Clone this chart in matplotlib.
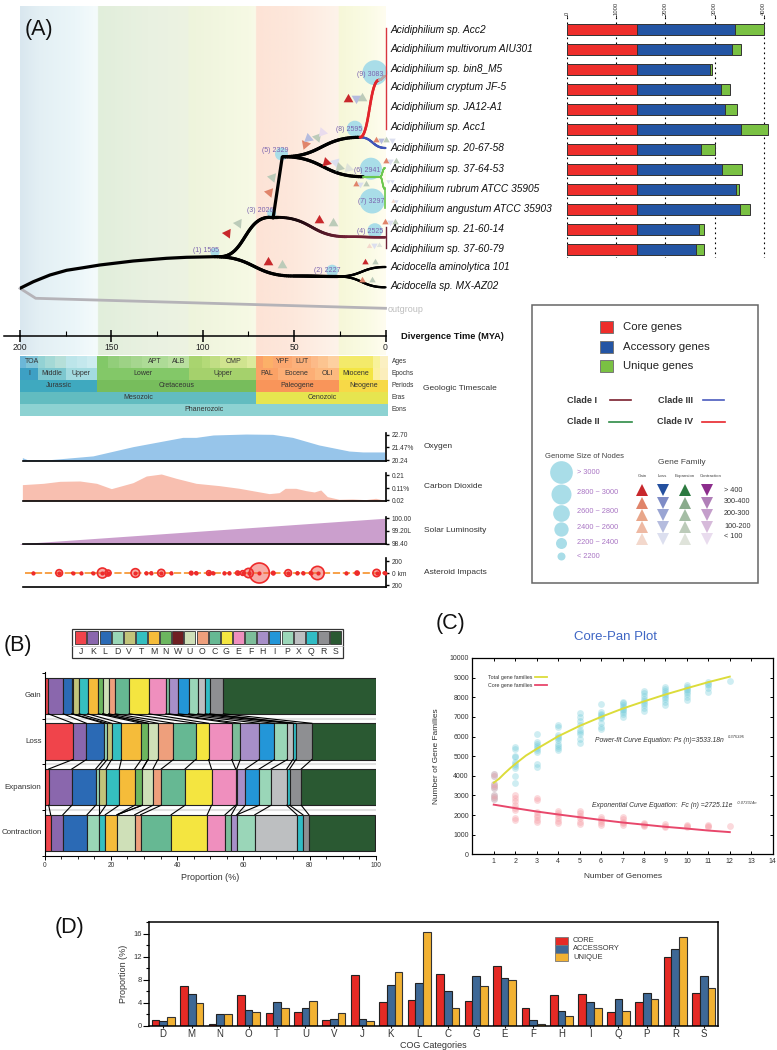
import numpy as np
import matplotlib
matplotlib.use("Agg")
import matplotlib.pyplot as plt
from matplotlib.collections import LineCollection
from matplotlib.colors import to_rgb
from matplotlib.patches import Rectangle
from matplotlib.ticker import MultipleLocator

plt.rcParams['font.family'] = ['Liberation Sans', 'DejaVu Sans']

W, H = 777, 1050
fig = plt.figure(figsize=(W / 100, H / 100), dpi=100, facecolor='white')


def axpx(x0, y0, x1, y1, **kw):
    return fig.add_axes([x0 / W, 1 - y1 / H, (x1 - x0) / W, (y1 - y0) / H], **kw)


# ---------------- DATA ----------------
species = ['Acidiphilium sp. Acc2', 'Acidiphilium multivorum AIU301', 'Acidiphilium sp. bin8_M5',
           'Acidiphilium cryptum JF-5', 'Acidiphilium sp. JA12-A1', 'Acidiphilium sp. Acc1',
           'Acidiphilium sp. 20-67-58', 'Acidiphilium sp. 37-64-53', 'Acidiphilium rubrum ATCC 35905',
           'Acidiphilium angustum ATCC 35903', 'Acidiphilium sp. 21-60-14', 'Acidiphilium sp. 37-60-79',
           'Acidocella aminolytica 101', 'Acidocella sp. MX-AZ02']
species_y = [30, 49.5, 69, 87, 107, 127, 148, 169, 189, 209, 229, 249, 267, 286]

core_genes = [1419] * 12
accessory_genes = [1990, 1929, 1494, 1711, 1786, 2112, 1297, 1738, 2010, 2091, 1270, 1209]
unique_genes = [604, 186, 27, 190, 244, 550, 299, 408, 75, 218, 95, 163]

root_t = [200, 192.7, 183.6, 174.5, 165.4, 156.3, 138, 119.8, 108.9, 93.3]
root_y = [288.3, 281.7, 275, 270.3, 267.7, 265, 261, 258.3, 257.3, 256.7]
# t0, y0, t1, y1, colour start, colour end, width
branches = [
    (93.3, 256.7, 50.5, 276, '#000000', '#000000', 2.3),
    (50.5, 276, 26, 276.5, '#000000', '#000000', 2.3),
    (26, 276.5, 0, 267, '#000000', '#000000', 1.7),
    (26, 276.5, 0, 287.3, '#000000', '#000000', 1.7),
    (90.6, 256.7, 63.3, 217.3, '#000000', '#000000', 2.3),
    (63.3, 217.3, 59.6, 217.3, '#000000', '#000000', 2.3),
    (59.6, 217.3, 21.3, 236.7, '#000000', '#702035', 2.1),
    (21.3, 236.7, 0, 237.3, '#702035', '#702035', 1.8),
    (56, 156.7, 14, 137.3, '#000000', '#000000', 2.3),
    (56, 156.7, 12.2, 176.7, '#000000', '#000000', 2.3),
    (12.2, 176.7, 3, 176.7, '#6cc84f', '#6cc84f', 1.5),
    (3, 176.7, 0.3, 168, '#6cc84f', '#6cc84f', 1.2),
    (3, 176.7, 0.3, 189, '#6cc84f', '#6cc84f', 1.2),
    (14, 137.3, 0, 148, '#3f55b8', '#3f55b8', 1.6),
    (14, 137.3, 3.5, 80, '#e2252b', '#e2252b', 1.9),
    (3.5, 80, 0, 76, '#b5a9a9', '#b5a9a9', 1.5),
]
stem_t = [61.5, 56.5]
stem_y = [218, 157]
clade4_y = [28, 129]
clade2_y = [188, 208]
clade1_y = [227, 248]
outgroup_t = [200, 191.4, 0]
outgroup_y = [288.3, 298.3, 308.3]

node_names = ['(1) 1505', '(2) 2227', '(3) 2026', '(4) 2525', '(5) 2329', '(6) 2941', '(7) 3297', '(8) 2595', '(9) 3083']
node_t = [93.3, 29.2, 62.3, 5.8, 56.9, 8, 7.3, 16.8, 5.8]
node_y = [252.3, 270.7, 213.3, 230.7, 154, 168.7, 201, 128.7, 72.7]
node_d = [9, 12, 9, 15, 13, 22, 25, 16, 25]
node_lab_t = [98.3, 32.1, 68.5, 8.6, 60.3, 9.8, 7.8, 20, 8.4]
node_lab_y = [250, 270.7, 210.7, 231.7, 150.7, 170, 201.3, 129.3, 74]

tri_t = [86.6, 80.6, 64.5, 56.9, 63.6, 62.3, 36.3, 28.6, 44.1, 42.3, 37.4, 35, 32.6, 27.7, 25.3, 20.4, 20.4, 16.4, 12.6,
         5.3, 2.2, -.5, -3.3, 11.1, 5.8, 12.6, 7.3, -.2, -2.7, -5.5, 16.2, 13.7, 10.9, -1.5, -3.3, -4.2, -6, .4, -2.4, -5.1,
         8.9, 6.4, 3.6]
tri_y = [232.7, 223.3, 261.7, 265, 191.7, 176.7, 220, 223.3, 144, 138.3, 136.7, 131.7, 161.7, 162.3, 166.7, 168.3, 99, 98.3,
         98.3, 140, 140, 140, 140, 261.7, 261.7, 280, 280, 161, 161, 161, 184.3, 184.3, 184.3, 181, 181, 201, 201, 222.3,
         222.3, 222.3, 245.7, 245, 245]
tri_kind = list('GEGEGEGEGLECGLEEGLEGLELGEGEGLEGLELLGLGLEGLE')
tri_level = [0, 3, 0, 3, 1, 3, 0, 3, 1, 3, 3, 4, 0, 4, 3, 4, 0, 3, 3, 1, 3, 3, 4, 0, 3, 1, 3, 1, 4, 3, 1, 4, 3, 4, 4, 4, 4, 1, 4, 3,
             4, 4, 4]
tri_px = [9] * 19 + [6] * 14 + [4] * 4 + [6] * 3 + [5, 6, 5]
tri_rot = [-35, -35, 0, 0, 80, 80, 0, 0, -80, -50, -40, -40, 15, 15, 15, 15] + [0] * 27

band_t = [200, 190, 170, 157.5, 157.4, 130, 108, 107.9, 75, 71, 70.9, 50, 26, 25.5, 10, 0]
band_c = ['#d9e7ef', '#e3eff4', '#ebf6f9', '#f5fbfc', '#e1eedb', '#e9f1e1', '#edf3e2', '#eef4dc', '#f6f9e4', '#f9fae8',
          '#fde3d6', '#fde8dc', '#fef3ea', '#f6f7d8', '#fafbe4', '#fffdf0']

time_major = [200, 150, 100, 50, 0]
time_minor = [175, 125, 75, 25]

ages = [(200, 196.7, '', '#6cb7d8'), (196.7, 190, 'TOA', '#7fc4d8'), (190, 186.3, '', '#93d2d4'), (186.3, 180.8, '', '#a4d9d6'),
        (180.8, 174.8, '', '#b5dfd9'), (174.8, 169, '', '#bce5ea'), (169, 163.5, '', '#c4e8ed'), (163.5, 157.9, '', '#cdecf0'),
        (157.9, 151.7, '', '#82c868'), (151.7, 145.7, '', '#92ce7a'), (145.7, 139.5, '', '#9dd285'), (139.5, 133.4, '', '#a6d68f'),
        (133.4, 119.2, 'APT', '#addb96'), (119.2, 107.4, 'ALB', '#b9df9f'), (107.4, 100.6, '', '#a9d46f'), (100.6, 96, '', '#b4da78'),
        (96, 90.6, '', '#c1de84'), (90.6, 76, 'CMP', '#d0e48f'), (76, 70.9, '', '#dcea9c'), (70.9, 66.9, '', '#fba067'),
        (66.9, 61.4, '', '#fcb068'), (61.4, 51.4, 'YPF', '#fba870'), (51.4, 40.5, 'LUT', '#fbb07a'), (40.5, 36.8, '', '#fcba88'),
        (36.8, 31.4, '', '#fcc490'), (31.4, 25.5, '', '#fdd0a0'), (25.5, 6.7, '', '#f3ea6a'), (6.7, 3.1, '', '#f8f29a'),
        (3.1, -1.5, '', '#fbf0c2')]
epochs = [(200, 190, 'I', '#3da0c4'), (190, 174.8, 'Middle', '#7dc7cf'), (174.8, 157.9, 'Upper', '#a3dbe0'),
          (157.9, 107.4, 'Lower', '#83c868'), (107.4, 70.9, 'Upper', '#a5d16c'), (70.9, 59, 'PAL', '#fba266'),
          (59, 38.6, 'Eocene', '#fcae75'), (38.6, 25.5, 'OLI', '#fcb97f'), (25.5, 6.7, 'Miocene', '#f3e544'),
          (6.7, 3.1, '', '#fcf0a0'), (3.1, -1.5, '', '#fbeebc')]
periods = [(200, 157.9, 'Jurassic', '#3fa9bf'), (157.9, 70.9, 'Cretaceous', '#77bd5c'), (70.9, 25.5, 'Paleogene', '#f9955a'),
           (25.5, -1.5, 'Neogene', '#f7d947')]
eras = [(200, 70.9, 'Mesozoic', '#62bcc0'), (70.9, -1.5, 'Cenozoic', '#e6e54f')]
eons = [(200, -1.5, 'Phanerozoic', '#8dd2d2')]
row_names = ['Ages', 'Epochs', 'Periods', 'Eras', 'Eons']

oxygen_t = [198.7, 196, 183.6, 160, 138, 110.7, 103.4, 94, 76, 61.4, 50.5, 36, 19.5, 12, 0]
oxygen_v = [20.50, 20.30, 20.30, 20.66, 21.55, 22.44, 22.44, 22.67, 22.76, 22.73, 22.44, 21.71, 21.13, 21.04, 21.04]
co2_t = [198.7, 187.2, 178.1, 167.2, 158, 149.9, 138, 130.7, 122.5, 114.3, 103.4, 90.6, 79.7, 63.3, 57.8, 54.5, 48.7, 43.2,
         38.6, 35, 31.4, 25, 17.7, 10.4, 4.9, 0]
co2_v = [.1375, .1475, .1625, .165, .1475, .1075, .1525, .2025, .2175, .185, .1475, .13, .11, .07, .0775, .11, .11, .0925,
         .0825, .0975, .0475, .0275, .03, .025, .035, .02]
solar_t = [200, 0]
solar_v = [98.4, 100.0]
ast_t = [192.7, 178.5, 171.2, 166.3, 160.2, 154.8, 151.7, 136.7, 130.7, 128, 122.5, 117, 106.1, 103.4, 96.4, 94.2, 87.9, 85.1,
         80.6, 77.8, 74.6, 68.7, 61.1, 52.9, 47.8, 44.7, 40.5, 36.8, 21, 15.1, 4.4, 0]
ast_km = [14, 67, 14, 14, 14, 100, 60, 87, 18, 22, 73, 18, 33, 24, 47, 20, 18, 20, 40, 47, 93, 200, 33, 67, 22, 22, 28, 133, 14,
          40, 73, 24]

cog_letters = ['J', 'K', 'L', 'D', 'V', 'T', 'M', 'N', 'W', 'U', 'O', 'C', 'G', 'E', 'F', 'H', 'I', 'P', 'X', 'Q', 'R', 'S']
cog_colors = ['#f0444b', '#8a67ad', '#2b6ab5', '#99d6b6', '#c2c47a', '#35bfc0', '#f5bc3a', '#6cb65f', '#6f1f22', '#cfe0b8',
              '#ee9f7c', '#66b893', '#f4e540', '#ef8fbe', '#7dbd9a', '#a78fc8', '#2396d8', '#9ad6b8', '#bdbfc1', '#31bcc4',
              '#8e8f92', '#2a5932']
b_rows = ['Gain', 'Loss', 'Expansion', 'Contraction']
gain_pct = [1.1, 4.5, 2.5, 0.3, 2.0, 2.6, 3.2, 1.3, 0, 1.8, 2.0, 4.2, 6.0, 5.1, 0.9, 2.9, 3.1, 2.7, 2.3, 1.3, 4.2, 46.0]
loss_pct = [8.5, 4.1, 5.2, 1.1, 1.3, 3.0, 6.0, 2.0, 0, 3.0, 4.7, 6.7, 3.9, 7.0, 2.6, 5.7, 4.6, 3.9, 1.7, 0.9, 4.8, 19.3]
expansion_pct = [1.2, 7.0, 7.2, 1.1, 2.0, 4.0, 4.7, 2.3, 0, 3.2, 2.5, 7.2, 8.0, 7.3, 0.3, 2.6, 4.2, 3.6, 4.7, 0.9, 3.5, 22.5]
contraction_pct = [1.8, 3.7, 7.3, 3.7, 0, 1.8, 3.6, 0, 0, 5.3, 1.8, 9.2, 10.9, 5.4, 1.9, 1.7, 0, 5.4, 12.7, 1.8, 1.8, 19.9]

pan_n = list(range(1, 13))
pan_pts = [[2800, 2900, 3000, 3400, 3500, 3600, 4000, 4100],
           [3650, 4000, 4400, 4500, 4600, 4700, 4950, 5000, 5350, 5450],
           [4450, 4600, 5200, 5300, 5400, 5500, 5600, 5700, 6150],
           [5300, 5400, 5500, 5600, 5800, 5900, 6000, 6100, 6500, 6600],
           [5650, 5850, 6150, 6250, 6350, 6600, 6800, 7000, 7200],
           [6400, 6500, 6700, 6950, 7000, 7100, 7150, 7250, 7650],
           [7000, 7150, 7250, 7350, 7400, 7500, 7600, 7700, 7750],
           [7300, 7450, 7600, 7700, 7800, 7900, 8050, 8200, 8300],
           [7600, 7750, 7900, 8000, 8100, 8200, 8300, 8400, 8500],
           [7850, 8000, 8150, 8250, 8350, 8400, 8500, 8600],
           [8250, 8450, 8600, 8700, 8800],
           [8850]]
core_pts = [[2800, 2900, 3000, 3400, 3500, 3600, 4000, 4100],
            [1750, 1850, 2250, 2350, 2500, 2700, 2850, 3000],
            [1650, 1750, 1900, 2000, 2150, 2750, 2850],
            [1600, 1700, 1850, 2000, 2100, 2200],
            [1550, 1650, 1850, 1950, 2100, 2200],
            [1500, 1600, 1700, 1800, 1900],
            [1500, 1600, 1650, 1800, 1900],
            [1450, 1500, 1550, 1600],
            [1400, 1450, 1550],
            [1400, 1450, 1500],
            [1400, 1450, 1500],
            [1420]]
pan_curve_n = [1, 1.25, 1.5, 1.75, 2, 2.5, 3, 4, 5, 6, 7, 8, 9, 10, 11, 12]
pan_curve = [3650, 3850, 4120, 4370, 4600, 5030, 5370, 6010, 6540, 7000, 7420, 7790, 8140, 8460, 8770, 9050]
core_curve_n = [1, 2, 3, 4, 5, 6, 7, 8, 9, 10, 11, 12]
core_curve = [2530, 2350, 2180, 2030, 1890, 1750, 1620, 1510, 1400, 1310, 1210, 1130]

d_cats = ['D', 'M', 'N', 'O', 'T', 'U', 'V', 'J', 'K', 'L', 'C', 'G', 'E', 'F', 'H', 'I', 'Q', 'P', 'R', 'S']
d_core = [1.1, 6.9, .4, 5.3, 2.2, 2.4, 1.0, 8.8, 4.2, 4.5, 9.1, 4.4, 10.5, 3.2, 5.3, 5.6, 2.5, 4.2, 11.9, 5.8]
d_accessory = [.9, 5.5, 2.1, 2.7, 4.2, 3.1, 1.2, 1.3, 7.2, 7.5, 6.0, 8.6, 8.4, 1.1, 2.6, 4.1, 4.6, 5.7, 13.4, 8.6]
d_unique = [1.5, 4.0, 2.1, 2.5, 3.2, 4.3, 2.3, .8, 9.4, 16.4, 3.2, 6.9, 8.0, .3, 1.8, 3.1, 2.6, 4.7, 15.4, 6.6]

tri_colors = {
    'G': ['#c8282c', '#e0846a', '#e8a68a', '#eeb9a3', '#f3d8cc'],
    'L': ['#24509f', '#7f8cc6', '#9aa5d3', '#b5bcde', '#dcdfef'],
    'E': ['#2c7a40', '#8aab8c', '#a5bda5', '#bccbb9', '#dfe3da'],
    'C': ['#8c2d8c', '#b07fb8', '#c49ecb', '#d6bada', '#e9dcee'],
}
RED, BLUE, GREEN = '#ee2e2b', '#2455a4', '#7ac143'
NODE = '#a9dde8'
PURPLE = '#7a63ae'
LIGHTPURPLE = '#a975c4'

# ---------------- TREE ----------------
tree = axpx(20, 0, 385.5, 355)
tree.set_xlim(200, 0)
tree.set_ylim(355, 0)
tree.axis('off')
grid_t = np.linspace(200, 0, 800)
band_rgb = np.array([to_rgb(c) for c in band_c])
img = np.stack([np.interp(grid_t, band_t[::-1], band_rgb[::-1, i]) for i in range(3)], axis=1)[None, :, :]
tree.imshow(img, extent=(200, 0, 355, 6), aspect='auto', zorder=0, interpolation='bilinear')
tree.set_xlim(200, 0)
tree.set_ylim(355, 0)


def branch(t0, y0, t1, y1, c0, c1, lw):
    s = np.linspace(0, 1, 50)
    tm = (t0 + t1) / 2
    t = (1 - s) ** 3 * t0 + 3 * (1 - s) ** 2 * s * tm + 3 * (1 - s) * s ** 2 * tm + s ** 3 * t1
    y = (1 - s) ** 3 * y0 + 3 * (1 - s) ** 2 * s * y0 + 3 * (1 - s) * s ** 2 * y1 + s ** 3 * y1
    pts = np.column_stack([t, y])
    segs = np.stack([pts[:-1], pts[1:]], axis=1)
    a, b = np.array(to_rgb(c0)), np.array(to_rgb(c1))
    cols = [a + (b - a) * v for v in s[:-1]]
    lc = LineCollection(segs, colors=cols, linewidths=lw, capstyle='round', zorder=4, clip_on=False)
    tree.add_collection(lc)


tree.plot(outgroup_t, outgroup_y, color='#b5b3b8', lw=2, zorder=3, clip_on=False)
tree.plot(root_t, root_y, color='black', lw=2.3, zorder=4, solid_capstyle='round')
for b in branches:
    branch(*b)
tree.plot(stem_t, stem_y, color='black', lw=2.3, zorder=4, solid_capstyle='round')
tree.plot([0, 0], clade4_y, color='#d9363e', lw=1.0, zorder=4, clip_on=False)
tree.plot([0.3, 0.3], clade2_y, color='#6cc84f', lw=1.2, zorder=4, clip_on=False)
tree.plot([0, 0], clade1_y, color='#702035', lw=1.0, zorder=4, clip_on=False)

tree.scatter(node_t, node_y, s=[(d * .72) ** 2 for d in node_d], color=NODE, linewidths=0, zorder=3, clip_on=False)
for s, t, y in zip(node_names, node_lab_t, node_lab_y):
    tree.text(t, y, s, ha='center', va='center', fontsize=5, color=PURPLE, zorder=6, clip_on=False)

for t, y, k, lv, px, rot in zip(tri_t, tri_y, tri_kind, tri_level, tri_px, tri_rot):
    base = 180 if k in 'LC' else 0
    tree.plot([t], [y], marker=(3, 0, base + rot), ms=px * .72 * 1.25, color=tri_colors[k][lv], mew=0, zorder=5,
              clip_on=False, ls='none')

# time axis
tax = axpx(20, 330, 385.5, 335.7)
tax.patch.set_alpha(0)
tax.set_xlim(200, 0)
tax.set_yticks([])
for s in ['top', 'left', 'right']:
    tax.spines[s].set_visible(False)
tax.spines['bottom'].set_linewidth(1.1)
tax.set_xticks(time_major)
tax.set_xticks(time_minor, minor=True)
tax.tick_params(axis='x', which='major', direction='inout', length=8, width=1.1, labelsize=6.2, pad=1, labelcolor='#222')
tax.tick_params(axis='x', which='minor', direction='in', length=3.5, width=.8)
tax.plot([209, 200], [0, 0], color='black', lw=1.1, clip_on=False, transform=tax.get_xaxis_transform())

# timescale table
tab = axpx(20, 355.7, 385.5, 415.7)
tab.set_xlim(200, 0)
tab.set_ylim(5, 0)
tab.axis('off')
for r, row in enumerate([ages, epochs, periods, eras, eons]):
    for t0, t1, lab, col in row:
        tab.add_patch(Rectangle((t0, r), t1 - t0, 1, fc=col, ec='none', clip_on=False))
        if lab:
            tab.text((t0 + t1) / 2, r + .52, lab, ha='center', va='center', fontsize=5, color='#333', clip_on=False)


def env_axes(y0, y1, ylim, ticks, labels):
    a = axpx(20, y0, 385.5, y1)
    a.patch.set_alpha(0)
    a.set_xlim(200, -0.5)
    a.set_ylim(*ylim)
    a.set_xticks([])
    a.yaxis.tick_right()
    a.set_yticks(ticks)
    a.set_yticklabels(labels)
    a.tick_params(axis='y', length=2.5, width=1, labelsize=4.8, pad=2, labelcolor='#333')
    for s in ['top', 'left']:
        a.spines[s].set_visible(False)
    a.spines['bottom'].set_linewidth(1.2)
    a.spines['right'].set_linewidth(1.2)
    a.spines['bottom'].set_bounds(198.5, -0.5)
    return a


ox = env_axes(433, 461, (20.17, 22.86), [20.24, 21.47, 22.70], ['20.24', '21.47%', '22.70'])
ox.fill_between(oxygen_t, oxygen_v, 20.17, color='#97c5ea', lw=0)
cd = env_axes(473.3, 501, (.0147, .2228), [.02, .11, .21], ['0.02', '0.11%', '0.21'])
cd.fill_between(co2_t, co2_v, .0147, color='#f8bfb0', lw=0)
sl = env_axes(516.7, 544.3, (98.36, 100.1), [98.4, 99.2, 100.0], ['98.40', '99.20L', '100.00'])
sl.fill_between(solar_t, solar_v, 98.36, color='#cb9fcd', lw=0)
ai = env_axes(558, 587, (-233, 250), [-200, 0, 200], ['200', '0 km', '200'])
ai.plot([197, 0], [0, 0], color='#f79a3a', lw=1.3, ls=(0, (4, 1.5)), zorder=1)
ai.scatter(ast_t, [0] * len(ast_t), s=[(.072 * k) ** 2 for k in ast_km], facecolor='#f05a50', alpha=.5, linewidths=0, zorder=2,
           clip_on=False)
ai.scatter(ast_t, [0] * len(ast_t), s=[(.072 * k) ** 2 for k in ast_km], facecolor='none', edgecolor='#ee2b2b', linewidths=1.2,
           zorder=3, clip_on=False)
ai.scatter(ast_t, [0] * len(ast_t), s=9, color='#ee2b2b', linewidths=0, zorder=4, clip_on=False)

# ---------------- GENOME BARS ----------------
bar = axpx(567.3, 17, 773.5, 258)
bar.set_xlim(0, 4200)
bar.set_ylim(11.4, -0.61)
bar.patch.set_alpha(0)
ypos = np.arange(12)
bar.xaxis.tick_top()
bar.set_xticks([0, 1000, 2000, 3000, 4000])
bar.set_xticklabels(['0', '1000', '2000', '3000', '4000'], rotation=90)
bar.tick_params(axis='x', length=1.5, width=.6, labelsize=4.2, pad=.3, labelcolor='#333')
bar.set_yticks([])
for s in bar.spines.values():
    s.set_visible(False)
for v in [0, 1000, 2000, 3000, 4000]:
    bar.plot([v, v], [-.61, 11.4], color='black', lw=.8, ls=(0, (1.5, 3)), zorder=1)
bar.barh(ypos, core_genes, height=.55, color=RED, edgecolor='#333', lw=.7, zorder=2)
bar.barh(ypos, accessory_genes, left=core_genes, height=.55, color=BLUE, edgecolor='#333', lw=.7, zorder=2)
bar.barh(ypos, unique_genes, left=np.add(core_genes, accessory_genes), height=.55, color=GREEN, edgecolor='#333', lw=.7, zorder=2)

# ---------------- PANEL B ----------------
pb = axpx(44.7, 672, 375.7, 855.7)
pb.set_xlim(0, 100)
pb.set_ylim(3.484, -.5185)
rows_b = [gain_pct, loss_pct, expansion_pct, contraction_pct]
cum = [np.cumsum(r) for r in rows_b]
hb = .793
for i, r in enumerate(rows_b):
    left = 0
    for v, c in zip(r, cog_colors):
        if v > 0:
            pb.barh(i, v, left=left, height=hb, color=c, edgecolor='#222', lw=.8)
        left += v
for i in range(3):
    pb.plot([0, 100], [i + .5, i + .5], color='#e2e2e2', lw=1.5, zorder=1)
    for a, b in zip(cum[i][:-1], cum[i + 1][:-1]):
        pb.plot([a, b], [i + hb / 2, i + 1 - hb / 2], color='black', lw=.8, zorder=2)
pb.set_yticks([-.5, .5, 1.5, 2.5, 3.5])
pb.set_yticklabels([])
pb.set_xticks([0, 20, 40, 60, 80, 100])
pb.xaxis.set_minor_locator(MultipleLocator(5))
pb.tick_params(axis='x', which='major', length=3, width=.7, labelsize=4.8, pad=1.5, labelcolor='#333')
pb.tick_params(axis='x', which='minor', length=1.8, width=.6)
pb.tick_params(axis='y', length=2, width=.7)
for s in ['top', 'right']:
    pb.spines[s].set_visible(False)
pb.spines['left'].set_linewidth(.8)
pb.spines['bottom'].set_linewidth(.8)
pb.set_xlabel('Proportion (%)', fontsize=6.5, labelpad=3, color='#333')

# ---------------- PANEL C ----------------
pc = axpx(472.3, 658, 772.7, 854.3)
pc.set_xlim(0, 14)
pc.set_ylim(0, 10000)
for n, vals in zip(pan_n, pan_pts):
    pc.scatter([n] * len(vals), vals, s=24, color='#6cc9d8', alpha=.33, linewidths=0, zorder=2)
for n, vals in zip(pan_n, core_pts):
    pc.scatter([n] * len(vals), vals, s=24, color='#f7a0a8', alpha=.4, linewidths=0, zorder=2)
pc.plot(pan_curve_n, pan_curve, color='#dcdc3a', lw=1.4, zorder=3)
pc.plot(core_curve_n, core_curve, color='#e8476b', lw=1.4, zorder=3)
pc.set_xticks(range(0, 15))
pc.set_xticklabels([''] + [str(i) for i in range(1, 15)])
pc.set_yticks(range(0, 10001, 1000))
pc.tick_params(direction='in', length=2.5, width=.7, labelsize=5, top=True, right=True, pad=2.5, labelcolor='#333')
for s in pc.spines.values():
    s.set_linewidth(.9)
pc.set_xlabel('Number of Genomes', fontsize=6, color='#333', labelpad=6)
pc.set_ylabel('Number of Gene Families', fontsize=6, color='#333', labelpad=7)

# ---------------- PANEL D ----------------
pd_ax = axpx(149.3, 922.3, 718.3, 1026)
pd_ax.set_xlim(-.49, 19.51)
pd_ax.set_ylim(0, 18)
x = np.arange(20)
bw = .27
pd_ax.bar(x - bw, d_core, bw, color='#e52a25', edgecolor='#222', lw=.8)
pd_ax.bar(x, d_accessory, bw, color='#3e6896', edgecolor='#222', lw=.8)
pd_ax.bar(x + bw, d_unique, bw, color='#f2b233', edgecolor='#333', lw=.8)
pd_ax.set_xticks(x)
pd_ax.set_xticklabels(d_cats)
pd_ax.set_yticks([0, 4, 8, 12, 16])
pd_ax.yaxis.set_minor_locator(MultipleLocator(2))
pd_ax.tick_params(axis='x', length=1.5, width=.8, labelsize=7, pad=.5, labelcolor='#333')
pd_ax.tick_params(axis='y', which='major', length=4, width=.8, labelsize=5.5, pad=1.5, labelcolor='#333')
pd_ax.tick_params(axis='y', which='minor', length=2.5, width=.8)
for s in pd_ax.spines.values():
    s.set_linewidth(1.1)
pd_ax.set_xlabel('COG Categories', fontsize=6.5, labelpad=1.5, color='#333')
pd_ax.set_ylabel('Proportion (%)', fontsize=6.5, labelpad=4, color='#333')

# ---------------- OVERLAY: text and legends in pixel space ----------------
ov = fig.add_axes([0, 0, 1, 1])
ov.set_xlim(0, W)
ov.set_ylim(H, 0)
ov.axis('off')
ov.patch.set_alpha(0)


def T(x, y, s, size=6, color='#222', ha='left', **kw):
    ov.text(x, y, s, fontsize=size, color=color, ha=ha, va='center', **kw)


T(25, 29, '(A)', 15.5, '#111')
T(4, 645, '(B)', 15.5, '#111')
T(436, 623, '(C)', 15.5, '#111')
T(55, 928, '(D)', 15.5, '#111')

for s, y in zip(species, species_y):
    T(391, y, s, 7.3, '#111', style='italic')
T(388, 310, 'outgroup', 6.5, '#bdbdbd')
T(401, 336.5, 'Divergence Time (MYA)', 6.7, '#111', fontweight='bold')
for i, s in enumerate(row_names):
    T(392, 361.7 + 12 * i - .5, s, 4.8, '#333')
T(423, 389, 'Geologic Timescale', 6, '#333')
T(424, 446, 'Oxygen', 6, '#333')
T(424, 487, 'Carbon Dioxide', 6, '#333')
T(424, 530, 'Solar Luminosity', 6, '#333')
T(424, 572, 'Asteroid Impacts', 6, '#333')

# legend box A
ov.add_patch(Rectangle((532, 305), 226, 278, fc='white', ec='#666', lw=1.1, zorder=1))
for y, c, s in zip([327.3, 347, 366], [RED, BLUE, GREEN], ['Core genes', 'Accessory genes', 'Unique genes']):
    ov.add_patch(Rectangle((600.3, y - 6), 13, 12, fc=c, ec='#777', lw=.7, zorder=2))
    T(622.7, y, s, 8.2, '#222', zorder=2)
for tx, ty, x0, x1, c, s in [(567, 400.3, 610, 631, '#7a1f2e', 'Clade I'), (657.7, 400.3, 702.7, 724, '#4a5bbd', 'Clade III'),
                             (567, 422, 609, 631.7, '#2e8b46', 'Clade II'), (656.7, 422, 702, 725, '#e8262c', 'Clade IV')]:
    T(tx, ty, s, 6.6, '#333', fontweight='bold', zorder=2)
    ov.plot([x0, x1], [ty - .5, ty - .5], color=c, lw=1.2, zorder=2)
T(545, 456, 'Genome Size of Nodes', 5.5, '#444', zorder=2)
for y, d, s, ty in zip([472.3, 494, 512.7, 529.3, 543.3, 556], [22.7, 20, 16.7, 14.3, 11, 8],
                       ['> 3000', '2800 ~ 3000', '2600 ~ 2800', '2400 ~ 2600', '2200 ~ 2400', '< 2200'],
                       [472.7, 493, 511.3, 527.3, 542, 556.3]):
    ov.scatter([560.7], [y], s=(d * .72) ** 2, color=NODE, linewidths=0, zorder=2)
    T(577.3, ty, s, 5.3, LIGHTPURPLE, zorder=2)
T(658.3, 462, 'Gene Family', 6, '#444', zorder=2)
for k, x_, s, mk in zip('GLEC', [641.7, 663, 685, 706.7], ['Gain', 'Loss', 'Expansion', 'Contraction'], '^v^v'):
    T({'G': 642.3, 'L': 662.3, 'E': 685, 'C': 711}[k], 475.7, s, 3.2, '#444', ha='center', zorder=2)
    for lv, y in enumerate([490, 502.7, 515, 526.7, 538.7]):
        ov.plot([x_], [y], marker=mk, ms=9, color=tri_colors[k][lv], mew=0, ls='none', zorder=2)
for s, y in zip(['> 400', '300-400', '200-300', '100-200', '< 100'], [490, 501.7, 513.7, 526, 537]):
    T(724, y, s, 5.2, '#333', zorder=2)

# panel B labels and legend
for s, y in zip(b_rows, [695.5, 741.3, 787.3, 833]):
    T(41.5, y, s, 5.7, '#333', ha='right')
ov.add_patch(Rectangle((72, 628.5), 271, 29.5, fc='white', ec='#333', lw=.9, zorder=1))
ov.plot([72, 343], [645.5, 645.5], color='#bbb', lw=.5, zorder=1.5)
for i, (s, c) in enumerate(zip(cog_letters, cog_colors)):
    xs = 75.3 + i * 12.13
    ov.add_patch(Rectangle((xs, 631.3), 11, 13, fc=c, ec='#333', lw=.6, zorder=2))
    T(xs + 5.5, 651.7, s, 6.3, '#333', ha='center', zorder=2)

# panel C texts
T(615.7, 636.7, 'Core-Pan Plot', 9.5, '#3f66c4', ha='center')
ov.plot([535, 546.7], [677, 677], color='#dcdc3a', lw=1.3)
ov.plot([535, 546.7], [685, 685], color='#e8476b', lw=1.3)
T(488.3, 677.3, 'Total gene families', 3.8, '#333')
T(488.3, 685.3, 'Core gene families', 3.8, '#333')
T(595, 740.3, 'Power-fit Curve Equation: Ps (n)=3533.18n', 4.9, '#333', style='italic')
T(727.5, 737, '0.375395', 2.9, '#333', style='italic')
T(591.5, 805.5, 'Exponential Curve Equation:  Fc (n) =2725.11e', 4.9, '#333', style='italic')
T(736.5, 802.5, '-0.073314n', 2.9, '#333', style='italic')

# panel D legend
for y, c, s in zip([940.7, 949, 957.3], ['#e52a25', '#3e6896', '#f2b233'], ['CORE', 'ACCESSORY', 'UNIQUE']):
    ov.add_patch(Rectangle((555.3, y - 4), 13, 8, fc=c, ec='#777', lw=.6, zorder=3))
    T(573, y, s, 5.4, '#333', zorder=3)

fig.savefig('out.png', dpi=100)
